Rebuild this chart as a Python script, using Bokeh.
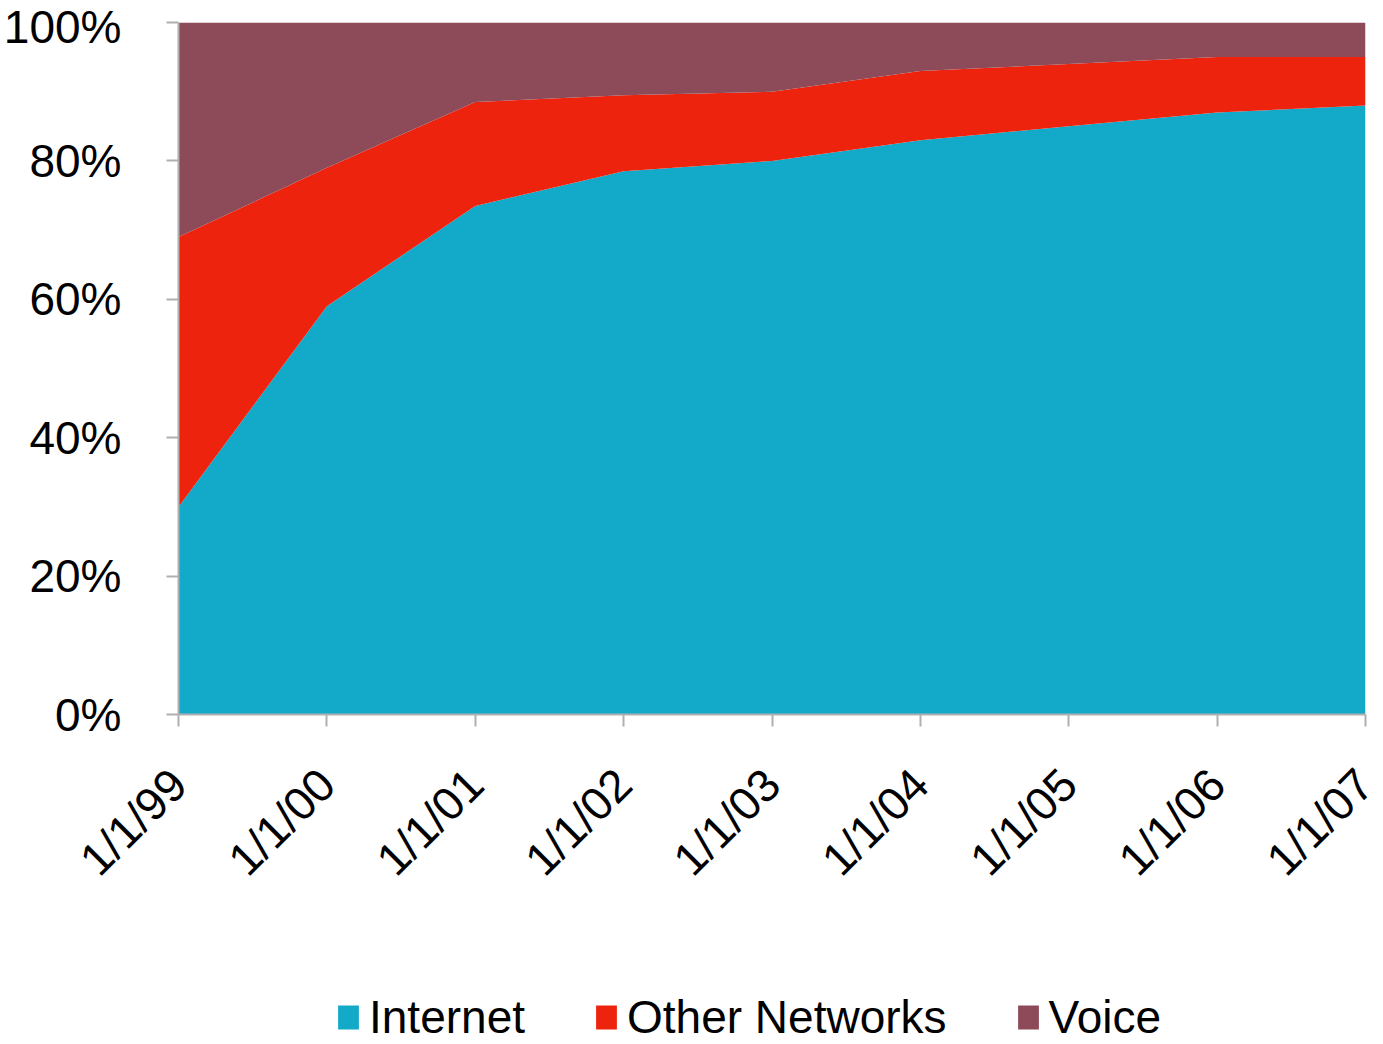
import math
from bokeh.plotting import figure
from bokeh.layouts import column
from bokeh.models import FixedTicker, Legend, LegendItem, ColumnDataSource
from bokeh.embed import file_html
from bokeh.resources import INLINE

# ---- data (percent of total) ----
dates = ["1/1/99", "1/1/00", "1/1/01", "1/1/02", "1/1/03", "1/1/04", "1/1/05", "1/1/06", "1/1/07"]
internet = [30, 59, 73.5, 78.5, 80, 83, 85, 87, 88]
other_networks = [39, 20, 15, 11, 10, 10, 9, 8, 7]
voice = [31, 21, 11.5, 10.5, 10, 7, 6, 5, 5]

series_names = ["Internet", "Other Networks", "Voice"]
colors = ["#13aac9", "#ee230e", "#8d4b5a"]

xpos = list(range(len(dates)))
src = ColumnDataSource(dict(x=xpos, Internet=internet, **{"Other Networks": other_networks}, Voice=voice))

font = "Liberation Sans"

p = figure(width=1383, height=964, output_backend="svg", toolbar_location=None,
           x_range=(0, len(dates) - 1), y_range=(0, 100),
           min_border_left=10, min_border_right=18, min_border_top=22, min_border_bottom=250)

renderers = p.varea_stack(stackers=series_names, x="x", source=src, color=colors)

p.xgrid.visible = False
p.ygrid.visible = False
p.outline_line_color = None

p.yaxis.ticker = FixedTicker(ticks=[0, 20, 40, 60, 80, 100])
p.yaxis.major_label_overrides = {v: f"{v}%" for v in [0, 20, 40, 60, 80, 100]}
p.xaxis.ticker = FixedTicker(ticks=xpos)
p.xaxis.major_label_overrides = {i: d for i, d in enumerate(dates)}
p.xaxis.major_label_orientation = math.pi / 4

for ax in (p.xaxis, p.yaxis):
    ax.axis_line_color = "#b0b0b0"
    ax.axis_line_width = 2
    ax.major_tick_line_color = "#b0b0b0"
    ax.major_tick_line_width = 2
    ax.major_tick_out = 12
    ax.major_tick_in = 0
    ax.minor_tick_line_color = None
    ax.major_label_text_font = font
    ax.major_label_text_font_size = "46px"
    ax.major_label_text_color = "#000000"

p.yaxis.major_label_standoff = 45
p.xaxis.major_label_standoff = 50

# ---- legend strip (reuses the same stacked source, drawn with zero height so only the legend shows) ----
lg = figure(width=1383, height=80, output_backend="svg", toolbar_location=None,
            x_range=(0, 1), y_range=(0, 1), min_border=0)
lg.axis.visible = False
lg.grid.visible = False
lg.outline_line_color = None
dummy = [lg.varea(x="x", y1=n, y2=n, source=src, fill_color=c, fill_alpha=1.0)
         for n, c in zip(series_names, colors)]

legend = Legend(items=[LegendItem(label=n, renderers=[r]) for n, r in zip(series_names, dummy)],
                orientation="horizontal", location=(157, 0),
                label_text_font=font, label_text_font_size="46px", label_text_color="#000000",
                glyph_width=26, glyph_height=30, spacing=68, label_standoff=8,
                border_line_color=None, background_fill_alpha=0, padding=0, margin=0)
lg.add_layout(legend)

layout = column(p, lg, spacing=0)
open("out.html", "w").write(file_html(layout, INLINE))
